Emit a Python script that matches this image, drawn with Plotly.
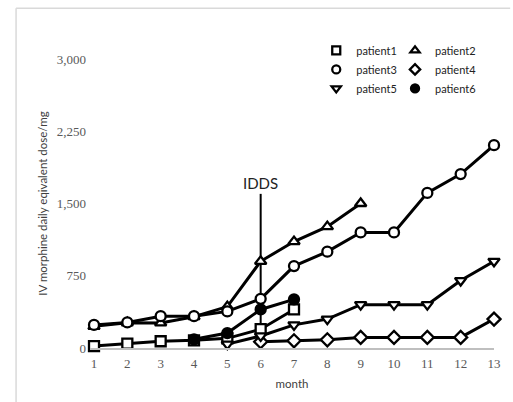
import plotly.graph_objects as go

months = list(range(1, 14))

p1_x = [1, 2, 3, 4, 5, 6, 7]
p1_y = [20, 45, 70, 80, 100, 195, 400]

p2_x = [1, 2, 3, 4, 5, 6, 7, 8, 9]
p2_y = [225, 262, 260, 325, 430, 900, 1105, 1260, 1500]

p3_x = list(range(1, 14))
p3_y = [240, 265, 330, 330, 380, 510, 850, 1000, 1200, 1200, 1610, 1805, 2105]

p4_x = [6, 7, 8, 9, 10, 11, 12, 13]
p4_y = [65, 75, 85, 110, 110, 110, 110, 300]

p5_x = [5, 6, 7, 8, 9, 10, 11, 12, 13]
p5_y = [40, 125, 240, 300, 450, 450, 450, 700, 900]

p6_x = [4, 5, 6, 7]
p6_y = [90, 155, 400, 505]

y_ticks = [0, 750, 1500, 2250, 3000]
y_tick_labels = ["0", "750", "1,500", "2,250", "3,000"]

idds_month = 6
idds_top = 1600

series = [
    ("patient1", p1_x, p1_y, "square", "white", "legend"),
    ("patient2", p2_x, p2_y, "triangle-up", "white", "legend2"),
    ("patient3", p3_x, p3_y, "circle", "white", "legend"),
    ("patient4", p4_x, p4_y, "diamond", "white", "legend2"),
    ("patient5", p5_x, p5_y, "triangle-down", "white", "legend"),
    ("patient6", p6_x, p6_y, "circle", "black", "legend2"),
]

fig = go.Figure()

fig.add_trace(go.Scatter(
    x=[idds_month, idds_month], y=[0, idds_top], mode="lines",
    line=dict(color="black", width=2), showlegend=False, hoverinfo="skip",
))

for name, xs, ys, sym, fill, leg in series:
    fig.add_trace(go.Scatter(
        x=xs, y=ys, mode="lines+markers", name=name, showlegend=False,
        line=dict(color="black", width=3),
        marker=dict(symbol=sym, size=10, color=fill, line=dict(color="black", width=2.3)),
        cliponaxis=False,
    ))

for name, xs, ys, sym, fill, leg in series:
    fig.add_trace(go.Scatter(
        x=[None], y=[None], mode="markers", name=name, legend=leg,
        marker=dict(symbol=sym, size=8, color=fill, line=dict(color="black", width=2.3)),
    ))

fig.add_annotation(
    x=idds_month, y=idds_top, text="IDDS", showarrow=False, yanchor="bottom",
    xanchor="center", yshift=0, font=dict(family="Lato", size=15, color="#222"),
)

tick_font = dict(family="Liberation Serif", color="#595959", size=13)

fig.update_layout(
    width=513, height=402,
    margin=dict(l=90, r=12, t=59, b=54),
    paper_bgcolor="white", plot_bgcolor="white",
    font=dict(family="Liberation Serif", color="#595959", size=13),
    xaxis=dict(
        range=[0.88, 13.0], tickmode="array", tickvals=months,
        ticktext=[str(m) for m in months], ticklabelstandoff=2, tickfont=tick_font,
        showgrid=False, zeroline=False, showline=True, linecolor="#bfbfbf", linewidth=2,
        ticks="", title=dict(text="month", font=dict(family="Lato", size=11.5, color="#404040"), standoff=10),
    ),
    yaxis=dict(
        range=[0, 3000], tickmode="array", tickvals=y_ticks, ticktext=y_tick_labels,
        ticklabelstandoff=3, tickfont=tick_font,
        showgrid=False, zeroline=False, showline=False, ticks="", ticklen=0,
        title=dict(text="IV morphine daily eqivalent dose/mg",
                   font=dict(family="Lato", size=11.5, color="#404040"), standoff=6),
    ),
    legend=dict(x=0.56, y=1.08, xanchor="left", yanchor="top", bgcolor="rgba(0,0,0,0)",
                font=dict(family="Lato", size=11, color="#222"), tracegroupgap=0,
                itemwidth=30),
    legend2=dict(x=0.755, y=1.08, xanchor="left", yanchor="top", bgcolor="rgba(0,0,0,0)",
                 font=dict(family="Lato", size=11, color="#222"), tracegroupgap=0,
                 itemwidth=30),
    shapes=[
        dict(type="line", xref="paper", yref="paper", x0=-0.183, x1=1.04, y0=1.176, y1=1.176,
             line=dict(color="#d9d9d9", width=1.5)),
        dict(type="line", xref="paper", yref="paper", x0=-0.183, x1=-0.183, y0=-0.2, y1=1.176,
             line=dict(color="#d9d9d9", width=1.5)),
    ],
)

fig.write_html("out.html", config={"displayModeBar": False},
               post_script="document.body.style.margin='0';")
